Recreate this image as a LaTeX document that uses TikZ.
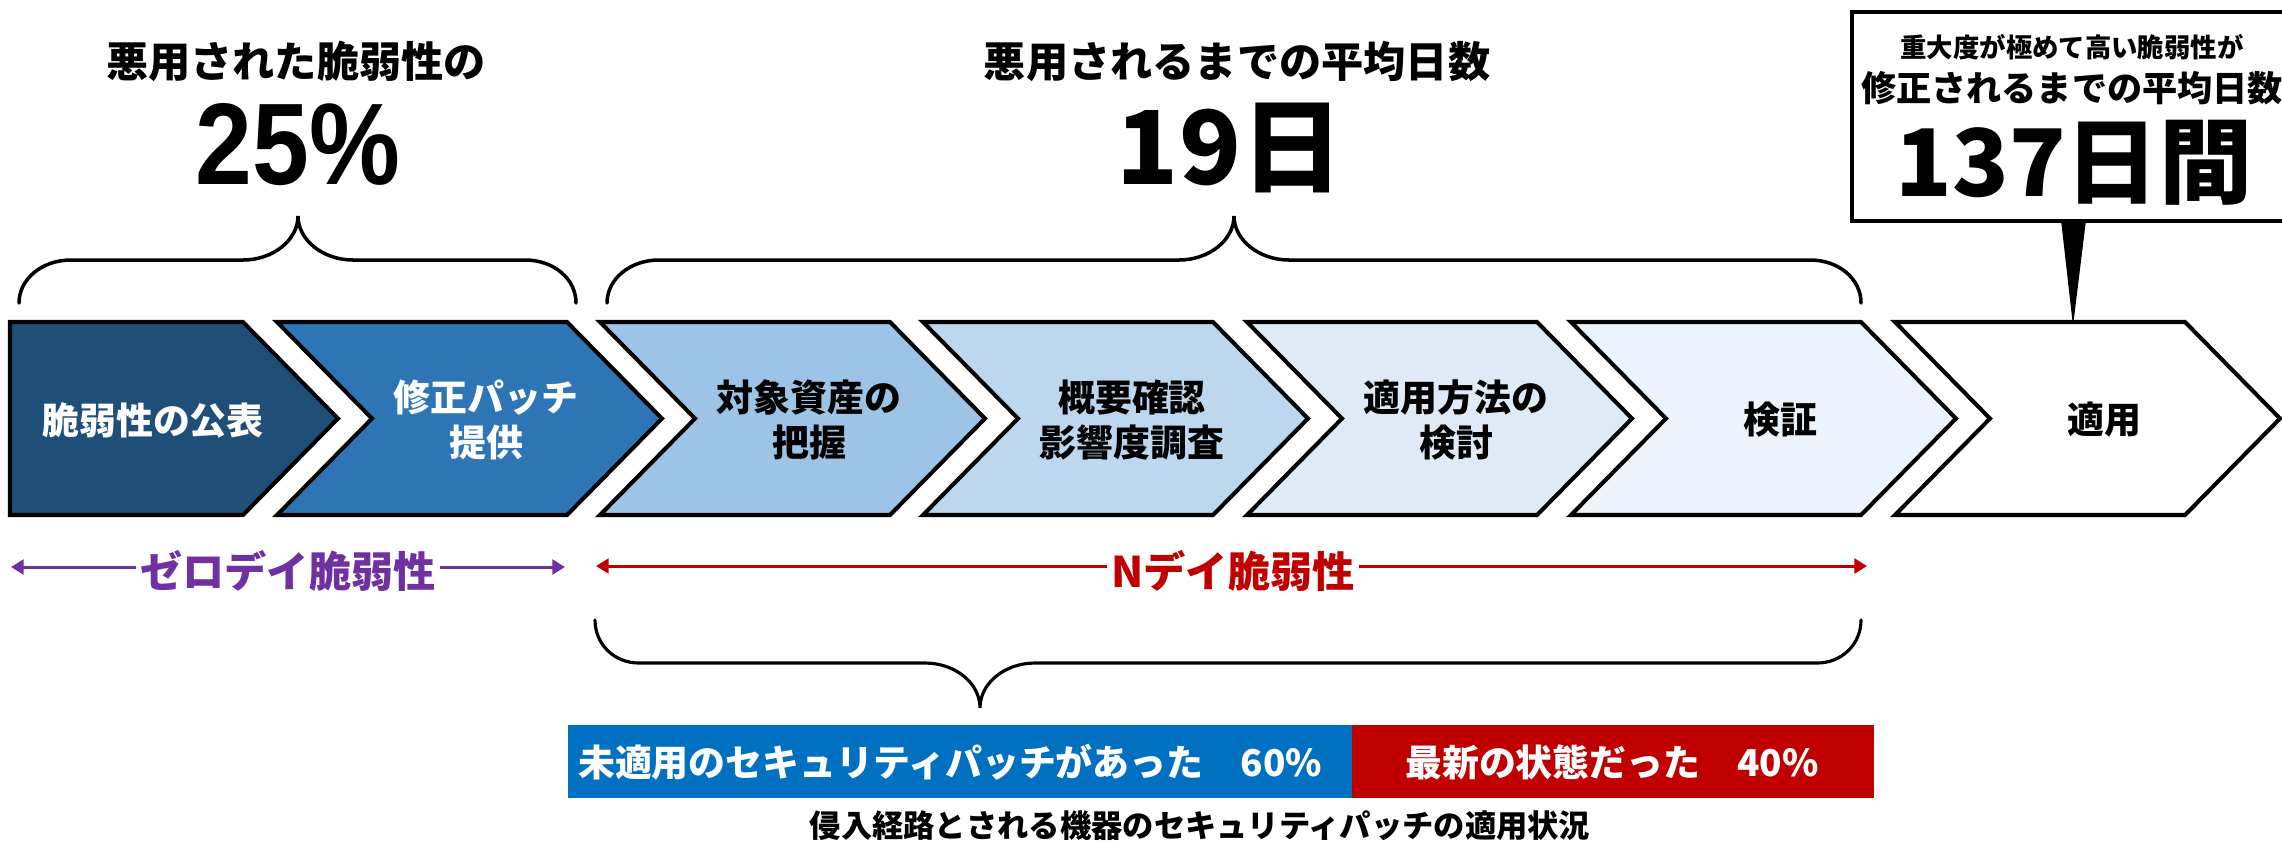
\documentclass[tikz,border=0pt]{standalone}
\usepackage{fontspec}
\setmainfont{Noto Sans CJK JP}
\newfontfamily\libsans{Liberation Sans}
\usetikzlibrary{arrows.meta}
\definecolor{chA}{HTML}{1F4E79}
\definecolor{chB}{HTML}{2E75B6}
\definecolor{chC}{HTML}{9DC3E6}
\definecolor{chD}{HTML}{BDD7EE}
\definecolor{chE}{HTML}{DEEBF7}
\definecolor{chF}{HTML}{EDF3FA}
\definecolor{zeroday}{HTML}{7030A0}
\definecolor{nday}{HTML}{C00000}
\definecolor{barblue}{HTML}{0070C0}
\definecolor{barred}{HTML}{C00000}
\tikzset{
  chev/.style={draw=black,line width=1.15pt,line join=miter},
  chevtxt/.style={font=\bfseries\fontsize{10.5}{12.8}\selectfont,align=center,inner sep=0pt},
  title/.style={font=\bfseries\fontsize{12}{14}\selectfont,inner sep=0pt},
  brace/.style={draw=black,line width=1.0pt,line cap=round},
  arrlbl/.style={font=\bfseries\fontsize{12}{14}\selectfont,inner sep=1pt},
  arrline/.style={line width=0.85pt,-{Triangle[length=3.6pt,width=4.2pt]}},
  bartxt/.style={font=\bfseries\fontsize{10.5}{12}\selectfont,text=white,inner sep=0pt},
}
\newcommand\mychev[2]{\draw[chev,fill=#2] (#1,322) -- ++(290,0) -- ++(95,96.5) -- ++(-95,96.5) -- ++(-290,0) -- ++(95,-96.5) -- cycle;}
\begin{document}
\begin{tikzpicture}[x=0.01cm,y=-0.01cm]
\clip (0,0) rectangle (2282,841);
\fill[white] (0,0) rectangle (2282,841);

% top titles
\node[title] (t25a) at (296,61) {悪用された脆弱性の};
\node[inner sep=0pt] (t25b) at (298,145) {\scalebox{0.88}[1]{\libsans\bfseries\fontsize{33}{36}\selectfont 25\%}};
\node[title] (t19a) at (1237,62) {悪用されるまでの平均日数};
\node[inner sep=0pt,font=\bfseries\fontsize{29}{33}\selectfont] (t19b) at (1230,148) {19日};

% top braces
\draw[brace] (19,303) .. controls (19,279) and (42,260) .. (71,260) -- (243,260)
  .. controls (273,260) and (298,240) .. (298,216)
  .. controls (298,240) and (323,260) .. (353,260) -- (525,260)
  .. controls (554,260) and (576,279) .. (576,303);
\draw[brace] (607,303) .. controls (607,279) and (630,260) .. (659,260) -- (1179,260)
  .. controls (1209,260) and (1234,240) .. (1234,216)
  .. controls (1234,240) and (1259,260) .. (1289,260) -- (1810,260)
  .. controls (1839,260) and (1861,279) .. (1861,303);

% callout
\draw[line width=1.15pt,fill=white] (1852,12) rectangle (2300,221);
\node[inner sep=0pt,font=\bfseries\fontsize{7.5}{9}\selectfont] (cl1) at (2072,47) {重大度が極めて高い脆弱性が};
\node[inner sep=0pt,font=\bfseries\fontsize{10}{12}\selectfont] (cl2) at (2072,88) {修正されるまでの平均日数};
\node[inner sep=0pt,font=\bfseries\fontsize{26.5}{30}\selectfont] (cl3) at (2074,163) {137日間};
\coordinate (ptip) at (2073,326);
\fill[black] (2061,220) -- (2086,220) -- (ptip) -- cycle;

% chevrons
\draw[chev,fill=chA] (10,322) -- (243,322) -- (338,418.5) -- (243,515) -- (10,515) -- cycle;
\mychev{277}{chB}
\mychev{600}{chC}
\mychev{923}{chD}
\mychev{1247}{chE}
\mychev{1571}{chF}
\mychev{1895}{white}

\node[chevtxt,text=white] (s1) at (153,420) {脆弱性の公表};
\node[chevtxt,text=white] (s2) at (486,420) {修正パッチ\\提供};
\node[chevtxt] (s3) at (809,420) {対象資産の\\把握};
\node[chevtxt] (s4) at (1132,420) {概要確認\\影響度調査};
\node[chevtxt] (s5) at (1456,420) {適用方法の\\検討};
\node[chevtxt] (s6) at (1780,420) {検証};
\node[chevtxt] (s7) at (2104,420) {適用};

% arrows
\node[arrlbl,text=zeroday] (zd) at (288,571) {ゼロデイ脆弱性};
\coordinate (zdL) at (11,567);
\coordinate (zdR) at (565,567);
\draw[arrline,draw=zeroday,fill=zeroday] (zdL -| zd.west) -- (zdL);
\draw[arrline,draw=zeroday,fill=zeroday] (zdR -| zd.east) -- (zdR);

\node[arrlbl,text=nday] (nd) at (1233,571) {Nデイ脆弱性};
\coordinate (ndL) at (596,566);
\coordinate (ndR) at (1867,566);
\draw[arrline,draw=nday,fill=nday] (ndL -| nd.west) -- (ndL);
\draw[arrline,draw=nday,fill=nday] (ndR -| nd.east) -- (ndR);

% bottom brace
\draw[brace,line width=0.9pt] (595,620) .. controls (595,644) and (614,663) .. (639,663) -- (925,663)
  .. controls (955,663) and (980,683) .. (980,708)
  .. controls (980,683) and (1005,663) .. (1035,663) -- (1817,663)
  .. controls (1842,663) and (1861,644) .. (1861,620);

% bar
\fill[barblue] (568,725) rectangle (1352,798);
\fill[barred] (1352,725) rectangle (1874,798);
\node[bartxt] (bt1) at (950,762) {未適用のセキュリティパッチがあった　60\%};
\node[bartxt] (bt2) at (1612,762) {最新の状態だった　40\%};
\node[inner sep=0pt,font=\bfseries\fontsize{8.9}{11}\selectfont] (cap) at (1200,826) {侵入経路とされる機器のセキュリティパッチの適用状況};
\end{tikzpicture}
\end{document}
